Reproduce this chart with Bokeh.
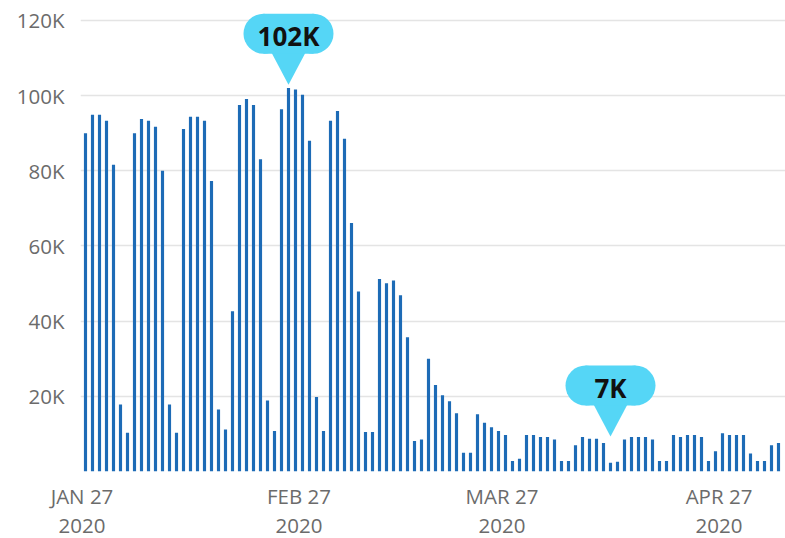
import pandas as pd
from bokeh.plotting import figure
from bokeh.models import Range1d, FixedTicker, CustomJSTickFormatter, ColumnDataSource
from bokeh.core.properties import value
from bokeh.embed import file_html
from bokeh.resources import INLINE

# ---------------- data ----------------
start_date = "2020-01-27"
daily_values = [
    90000, 94900, 94900, 93300, 81600, 17800, 10300,   # Jan 27 - Feb 2
    90000, 93800, 93300, 91700, 80000, 17800, 10300,   # Feb 3 - Feb 9
    91100, 94400, 94400, 93300, 77300, 16500, 11200,   # Feb 10 - Feb 16
    42600, 97500, 99100, 97500, 83100, 18900, 10800,   # Feb 17 - Feb 23
    96400, 102000, 101600, 100200, 88000, 19800, 10800,  # Feb 24 - Mar 1
    93300, 95900, 88500, 66100, 47900, 10500, 10500,   # Mar 2 - Mar 8
    51200, 50100, 50800, 46900, 35700, 8100, 8500,     # Mar 9 - Mar 15
    30000, 23000, 20300, 18700, 15500, 5000, 5000,     # Mar 16 - Mar 22
    15200, 13000, 11800, 10800, 9700, 2800, 3400,      # Mar 23 - Mar 29
    9700, 9700, 9200, 9200, 8500, 2800, 2800,          # Mar 30 - Apr 5
    7000, 9200, 8700, 8700, 7600, 2300, 2600,          # Apr 6 - Apr 12
    8500, 9200, 9200, 9200, 8500, 2800, 2800,          # Apr 13 - Apr 19
    9700, 9200, 9700, 9700, 9200, 2800, 5400,          # Apr 20 - Apr 26
    10200, 9700, 9700, 9700, 4800, 2800, 2800,         # Apr 27 - May 3
    7000, 7600,                                        # May 4 - May 5
]
x_tick_dates = ["2020-01-27", "2020-02-27", "2020-03-27", "2020-04-27"]
y_ticks = [0, 20000, 40000, 60000, 80000, 100000, 120000]
callout_dates = ["2020-02-25", "2020-04-11"]
callout_labels = ["102K", "7K"]
callout_anchor = [102900, 9300]

# ---------------- layout constants ----------------
LEFT, BOTTOM = 80, 67
FRAME_W, FRAME_H = 705, 471
PX_PER_DAY = 7.0
DAY_MS = 86400000.0
HALF_DAY = pd.Timedelta(hours=12)
Y_MAX = 125300.0

# each day's bar sits in the middle of its day
dates = pd.date_range(start_date, periods=len(daily_values)) + HALF_DAY
src = ColumnDataSource(dict(date=dates, value=daily_values))

t0 = pd.Timestamp(start_date).value / 1e6
x_start = t0 - (1.5 / PX_PER_DAY) * DAY_MS
x_end = x_start + (FRAME_W / PX_PER_DAY) * DAY_MS

p = figure(frame_width=FRAME_W, frame_height=FRAME_H, x_axis_type="datetime",
           x_range=Range1d(x_start, x_end), y_range=Range1d(0, Y_MAX),
           output_backend="svg", toolbar_location=None,
           min_border_left=LEFT, min_border_right=0, min_border_top=0,
           min_border_bottom=BOTTOM)
p.outline_line_color = None
p.background_fill_color = "white"
p.border_fill_color = "white"

# grid
p.xgrid.grid_line_color = None
p.ygrid.grid_line_color = "#e4e4e4"
p.ygrid.grid_line_width = 1.5

# axes
for ax in p.axis:
    ax.axis_line_color = None
    ax.major_tick_line_color = None
    ax.minor_tick_line_color = None
    ax.major_label_text_font = "Open Sans"
    ax.major_label_text_font_size = "20.5px"
    ax.major_label_text_color = "#6b6b6b"

p.yaxis.ticker = FixedTicker(ticks=y_ticks)
p.yaxis.formatter = CustomJSTickFormatter(code="""
    return tick == 0 ? "" : (tick / 1000).toFixed(0) + "K";
""")
p.yaxis.major_label_standoff = 10

p.xaxis.ticker = FixedTicker(ticks=[pd.Timestamp(d).value / 1e6 for d in x_tick_dates])
p.xaxis.formatter = CustomJSTickFormatter(code="""
    const M = ["JAN","FEB","MAR","APR","MAY","JUN","JUL","AUG","SEP","OCT","NOV","DEC"];
    const d = new Date(tick);
    return M[d.getUTCMonth()] + " " + d.getUTCDate() + "\\n" + d.getUTCFullYear();
""")
p.xaxis.major_label_standoff = 4
p.xaxis.major_label_text_line_height = 1.06

# bars
p.vbar(x="date", top="value", bottom=0, width=0.45 * DAY_MS, source=src,
       fill_color="#1d6bb6", line_color=None)

# callouts
ms_per_px = DAY_MS / PX_PER_DAY
val_per_px = Y_MAX / FRAME_H
cx = [(pd.Timestamp(d) + HALF_DAY).value / 1e6 for d in callout_dates]
box_cy = [a + 51 * val_per_px for a in callout_anchor]
tri_xs = [[x - 18 * ms_per_px, x + 18 * ms_per_px, x] for x in cx]
tri_ys = [[a + 34 * val_per_px, a + 34 * val_per_px, a] for a in callout_anchor]
CALLOUT = "#55d6f6"
p.patches(tri_xs, tri_ys, fill_color=CALLOUT, line_color=None)
p.rect(x=cx, y=box_cy, width=50, height=40, width_units="screen",
       height_units="screen", fill_color=CALLOUT, line_color=None)
for sgn in (-1, 1):
    p.scatter(x=[x + sgn * 25 * ms_per_px for x in cx], y=box_cy, size=40,
              marker="circle", fill_color=CALLOUT, line_color=None)
p.text(x=cx, y=[b - 2 * val_per_px for b in box_cy], text=callout_labels,
       text_align="center", text_baseline="middle",
       text_font=value("Open Sans"), text_font_style="bold",
       text_font_size="26px", text_color="#111111")

open("out.html", "w").write(file_html(p, INLINE))
